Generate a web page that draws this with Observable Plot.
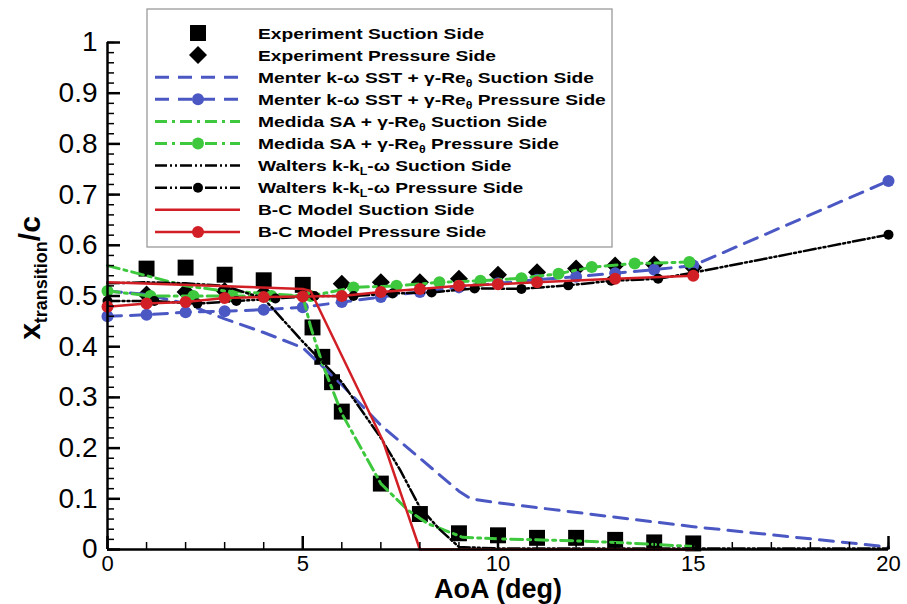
<!DOCTYPE html>
<html><head><meta charset="utf-8">
<script src="https://cdn.jsdelivr.net/npm/d3@7"></script>
<script src="https://cdn.jsdelivr.net/npm/@observablehq/plot@0.6"></script>
<style>
body{margin:0;background:#fff;}
#chart{position:relative;width:907px;height:604px;}
#chart svg{font-family:"Liberation Sans",Arial,Helvetica,sans-serif;overflow:visible;}
</style></head><body><div id="chart"></div>
<script>
// ---------- tick labels ----------
const xTicks = [0, 5, 10, 15, 20];
const xTickLabels = ["0", "5", "10", "15", "20"];
const yTicks = [0, 0.1, 0.2, 0.3, 0.4, 0.5, 0.6, 0.7, 0.8, 0.9, 1];
const yTickLabels = ["0", "0.1", "0.2", "0.3", "0.4", "0.5", "0.6", "0.7", "0.8", "0.9", "1"];
const xTitle = "AoA (deg)";

// ---------- data ----------
const expSuctionAoA = [1, 2, 3, 4, 5, 5.25, 5.5, 5.75, 6, 7, 8, 9, 10, 11, 12, 13, 14, 15];
const expSuctionXt  = [0.554, 0.556, 0.542, 0.531, 0.522, 0.438, 0.38, 0.33, 0.272, 0.13, 0.07, 0.032, 0.028, 0.023, 0.023, 0.019, 0.014, 0.012];

const expPressureAoA = [1, 2, 3, 4, 6, 7, 8, 9, 10, 11, 12, 13, 14, 15];
const expPressureXt  = [0.503, 0.508, 0.51, 0.505, 0.524, 0.527, 0.527, 0.534, 0.542, 0.547, 0.554, 0.56, 0.562, 0.556];

const menterSuctionAoA = [0, 1, 2, 3, 4, 5, 6, 7, 8, 9, 9.3, 10, 15, 20];
const menterSuctionXt  = [0.51, 0.503, 0.485, 0.455, 0.428, 0.398, 0.325, 0.245, 0.18, 0.115, 0.10, 0.092, 0.045, 0.005];

const menterPressureAoA = [0, 1, 2, 3, 4, 5, 6, 7, 8, 9, 10, 11, 12, 13, 14, 15, 20];
const menterPressureXt  = [0.46, 0.463, 0.468, 0.47, 0.473, 0.478, 0.488, 0.498, 0.508, 0.517, 0.525, 0.532, 0.538, 0.545, 0.552, 0.56, 0.727];

const medidaSuctionAoA = [0, 1, 2, 3, 4, 5, 5.2, 5.5, 6, 7, 7.7, 8.2, 9.1, 10, 11, 12, 13, 14, 15];
const medidaSuctionXt  = [0.56, 0.54, 0.52, 0.51, 0.505, 0.5, 0.44, 0.367, 0.268, 0.13, 0.077, 0.051, 0.024, 0.021, 0.019, 0.017, 0.014, 0.01, 0.006];

const medidaPressureAoA = [0, 1.1, 2.2, 3.2, 4.2, 5.2, 6.3, 7.4, 8.5, 9.55, 10.6, 11.55, 12.4, 13.5, 14.9];
const medidaPressureXt  = [0.51, 0.50, 0.50, 0.50, 0.50, 0.50, 0.517, 0.52, 0.527, 0.53, 0.535, 0.544, 0.557, 0.564, 0.567];

const waltersSuctionAoA = [0, 1, 2, 3, 4, 5, 6, 7, 7.5, 8, 8.5, 9, 10, 15, 20];
const waltersSuctionXt  = [0.525, 0.527, 0.525, 0.52, 0.495, 0.41, 0.33, 0.22, 0.156, 0.083, 0.04, 0.005, 0.002, 0.002, 0.002];

const waltersPressureAoA = [0, 1.2, 2.3, 3.3, 4.3, 5.3, 6.3, 7.3, 8.3, 9.4, 10.6, 11.8, 12.9, 14.1, 15, 20];
const waltersPressureXt  = [0.49, 0.49, 0.485, 0.49, 0.495, 0.50, 0.50, 0.505, 0.507, 0.515, 0.514, 0.521, 0.53, 0.534, 0.546, 0.621];

const bcSuctionAoA = [0, 5, 5.2, 7.05, 8, 15];
const bcSuctionXt  = [0.527, 0.514, 0.51, 0.215, 0.0, 0.0];

const bcPressureAoA = [0, 1, 2, 3, 4, 5, 6, 7, 8, 9, 10, 11, 13, 15];
const bcPressureXt  = [0.479, 0.485, 0.488, 0.496, 0.498, 0.499, 0.5, 0.508, 0.514, 0.52, 0.523, 0.527, 0.534, 0.54];

// legend label pieces: [text, isSubscript]
const legendLabels = [
  [["Experiment Suction Side", 0]],
  [["Experiment Pressure Side", 0]],
  [["Menter k-\u03c9 SST + \u03b3-Re", 0], ["\u03b8", 1], [" Suction Side", 0]],
  [["Menter k-\u03c9 SST + \u03b3-Re", 0], ["\u03b8", 1], [" Pressure Side", 0]],
  [["Medida SA + \u03b3-Re", 0], ["\u03b8", 1], [" Suction Side", 0]],
  [["Medida SA + \u03b3-Re", 0], ["\u03b8", 1], [" Pressure Side", 0]],
  [["Walters k-k", 0], ["L", 1], ["-\u03c9 Suction Side", 0]],
  [["Walters k-k", 0], ["L", 1], ["-\u03c9 Pressure Side", 0]],
  [["B-C Model Suction Side", 0]],
  [["B-C Model Pressure Side", 0]]
];

// ---------- styles / layout ----------
const W = 907, H = 604, ML = 107, MR = 19, MT = 42, MB = 55;
const PW = W - ML - MR, PH = H - MT - MB;
const BLUE = "#4b58c4", GREEN = "#3ec83e", RED = "#d21f26", BLACK = "#000";
const diamond = {draw(ctx, size) { const r = Math.sqrt(size / 2); ctx.moveTo(0, -r); ctx.lineTo(r, 0); ctx.lineTo(0, r); ctx.lineTo(-r, 0); ctx.closePath(); }};
const rows = (a, v) => a.map((x, i) => ({aoa: x, xt: v[i]}));
const pxY = p => p / PH, pxX = p => p / PW * 20;   // pixel tick lengths in data units

const series = [
  {data: rows(expSuctionAoA, expSuctionXt), line: false, symbol: "square", r: 9, color: BLACK},
  {data: rows(expPressureAoA, expPressureXt), line: false, symbol: diamond, r: 7.2, color: BLACK},
  {data: rows(menterSuctionAoA, menterSuctionXt), line: true, dash: "14,9", sw: 3, color: BLUE},
  {data: rows(menterPressureAoA, menterPressureXt), line: true, dash: "14,9", sw: 3, color: BLUE, symbol: "circle", r: 6},
  {data: rows(medidaSuctionAoA, medidaSuctionXt), line: true, dash: "12,5,3,5", sw: 3, color: GREEN},
  {data: rows(medidaPressureAoA, medidaPressureXt), line: true, dash: "12,5,3,5", sw: 3, color: GREEN, symbol: "circle", r: 6},
  {data: rows(waltersSuctionAoA, waltersSuctionXt), line: true, dash: "12,3,2,3,2,3", sw: 2.5, color: BLACK},
  {data: rows(waltersPressureAoA, waltersPressureXt), line: true, dash: "12,3,2,3,2,3", sw: 2.5, color: BLACK, symbol: "circle", r: 5},
  {data: rows(bcSuctionAoA, bcSuctionXt), line: true, dash: null, sw: 2.5, color: RED},
  {data: rows(bcPressureAoA, bcPressureXt), line: true, dash: null, sw: 2.5, color: RED, symbol: "circle", r: 6}
];

const dataMarks = [];
for (const s of series) {
  if (s.line) dataMarks.push(Plot.line(s.data, {x: "aoa", y: "xt", stroke: s.color, strokeWidth: s.sw, strokeDasharray: s.dash, strokeLinejoin: "round"}));
  if (s.symbol) dataMarks.push(Plot.dot(s.data, {x: "aoa", y: "xt", symbol: s.symbol, r: s.r, fill: s.color, stroke: "none"}));
}

const yMinor = d3.range(0, 1.0001, 0.02);
const xMinor = d3.range(0, 20.0001, 1);

const chart = Plot.plot({
  width: W, height: H,
  marginLeft: ML, marginRight: MR, marginTop: MT, marginBottom: MB,
  x: {domain: [0, 20], label: null},
  y: {domain: [0, 1], label: null},
  style: {background: "#fff", color: "#000"},
  marks: [
    Plot.axisX({ticks: xTicks, tickSize: 0, tickPadding: 6, fontSize: 22, label: null,
      tickFormat: d => xTickLabels[xTicks.indexOf(d)]}),
    Plot.axisY({ticks: yTicks, tickSize: 0, tickPadding: 10, fontSize: 28, label: null,
      tickFormat: d => yTickLabels[yTicks.indexOf(d)]}),
    ...dataMarks,
    Plot.ruleX([0], {strokeWidth: 2.5}),
    Plot.ruleY([0], {strokeWidth: 2.5}),
    // inward ticks
    Plot.ruleX(xMinor, {x: d => d, y1: () => 0, y2: () => pxY(7), stroke: "#000", strokeWidth: 1.5}),
    Plot.ruleY(yMinor, {y: d => d, x1: () => 0, x2: () => pxX(7), stroke: "#000", strokeWidth: 1.5}),
    Plot.ruleX(xTicks, {x: d => d, y1: () => 0, y2: () => pxY(13), stroke: "#000", strokeWidth: 2.5}),
    Plot.ruleY(yTicks, {y: d => d, x1: () => 0, x2: () => pxX(13), stroke: "#000", strokeWidth: 2.5}),
    Plot.text([xTitle], {text: d => d, frameAnchor: "bottom", dy: 40, fontSize: 27, fontWeight: "bold", lineAnchor: "middle"})
  ]
});
document.getElementById("chart").appendChild(chart);

const svg = d3.select(chart);

// ---------- y axis title with subscript ----------
const yt = svg.append("text")
  .attr("transform", "translate(40,278) rotate(-90)")
  .attr("text-anchor", "middle").attr("font-weight", "bold").attr("fill", "#000");
yt.append("tspan").attr("font-size", 30).text("x");
yt.append("tspan").attr("font-size", 18).attr("dy", 7).text("transition");
yt.append("tspan").attr("font-size", 30).attr("dy", -7).text("/c");

// ---------- legend ----------
const lg = svg.append("g");
lg.append("rect").attr("x", 147).attr("y", 9).attr("width", 465).attr("height", 238)
  .attr("fill", "#fff").attr("stroke", "#9a9a9a").attr("stroke-width", 1.3);
series.forEach((s, i) => {
  const cy = 33 + 22.1 * i;
  const g = lg.append("g").attr("transform", `translate(0,${cy})`);
  if (s.line) g.append("line").attr("x1", 155).attr("x2", 240).attr("y1", 0).attr("y2", 0)
    .attr("stroke", s.color).attr("stroke-width", s.sw).attr("stroke-dasharray", s.dash);
  if (s.symbol) {
    const sym = typeof s.symbol === "string" ? (s.symbol === "square" ? d3.symbolSquare : d3.symbolCircle) : s.symbol;
    g.append("path").attr("transform", "translate(198,0)")
      .attr("d", d3.symbol(sym, Math.PI * s.r * s.r)()).attr("fill", s.color);
  }
  const t = g.append("text").attr("transform", "translate(258,0) scale(1.24,1)")
    .attr("text-anchor", "start")
    .attr("font-size", 15.5).attr("font-weight", "bold").attr("dy", "0.36em").attr("fill", "#000");
  let prevSub = false;
  for (const [txt, sub] of legendLabels[i]) {
    const ts = t.append("tspan").text(txt);
    if (sub) { ts.attr("font-size", 10).attr("dy", 4); prevSub = true; }
    else if (prevSub) { ts.attr("dy", -4); prevSub = false; }
  }
});
</script>
</body></html>
